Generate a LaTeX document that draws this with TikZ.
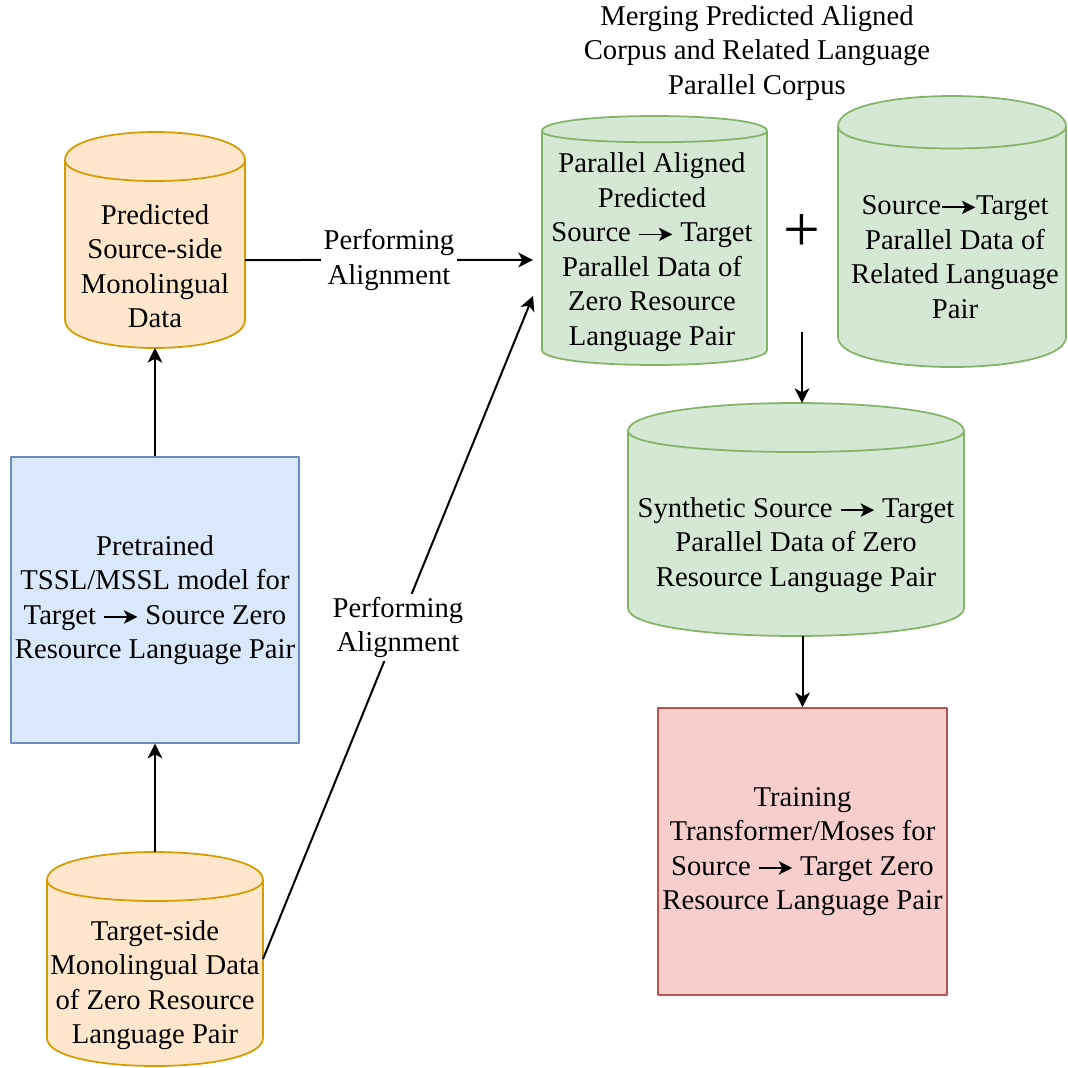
\documentclass[tikz,border=0pt]{standalone}
\usepackage{fontspec}
\setmainfont{Liberation Serif}
\usetikzlibrary{arrows.meta,calc}

\definecolor{orfill}{HTML}{FFE6CC}
\definecolor{ordraw}{HTML}{D79B00}
\definecolor{blfill}{HTML}{DAE8FC}
\definecolor{bldraw}{HTML}{6C8EBF}
\definecolor{grfill}{HTML}{D5E8D4}
\definecolor{grdraw}{HTML}{82B366}
\definecolor{rdfill}{HTML}{F8CECC}
\definecolor{rddraw}{HTML}{B85450}

% inline arrow used inside the labels
\newcommand\rarr{\begin{tikzpicture}[baseline=-5.4pt]
  \draw[black,line width=1.3pt,-{Stealth[length=10pt,width=10pt,inset=2.5pt]}] (0pt,0pt) -- (25pt,0pt);
\end{tikzpicture}}

% database cylinder: #1 style, #2 left, #3 top, #4 right, #5 bottom, #6 cap depth
\newcommand\dbcyl[6]{%
  \pgfmathsetmacro\cylTa{#3+#6}%
  \pgfmathsetmacro\cylTb{#3-#6/3}%
  \pgfmathsetmacro\cylBa{#5-#6}%
  \pgfmathsetmacro\cylBb{#5+#6/3}%
  \pgfmathsetmacro\cylTc{#3+2*#6}%
  \draw[#1] (#2,\cylTa) .. controls (#2,\cylTb) and (#4,\cylTb) .. (#4,\cylTa)
     -- (#4,\cylBa) .. controls (#4,\cylBb) and (#2,\cylBb) .. (#2,\cylBa) -- cycle;
  \draw[#1,fill=none] (#2,\cylTa) .. controls (#2,\cylTc) and (#4,\cylTc) .. (#4,\cylTa);
}

\begin{document}
\begin{tikzpicture}[x=0.75pt,y=-0.75pt,line join=round,
  txt/.style={align=center,font=\fontsize{21.5pt}{25.9pt}\selectfont,inner sep=0pt},
  conn/.style={line width=1.5pt,-{Stealth[length=11pt,width=11pt,inset=3pt]}},
  ghost/.style={draw=none,fill=none,inner sep=0pt,outer sep=0pt},
  orangecyl/.style={fill=orfill,draw=ordraw,line width=1.3pt},
  greencyl/.style={fill=grfill,draw=grdraw,line width=1.3pt},
  bluebox/.style={txt,rectangle,fill=blfill,draw=bldraw,line width=1pt},
  redbox/.style={txt,rectangle,fill=rdfill,draw=rddraw,line width=1.2pt},
  edgelabel/.style={txt,fill=white,inner sep=2pt}]

\useasboundingbox (0,0) rectangle (1068,1068);
\fill[white] (0,0) rectangle (1068,1068);

% ---- cylinders ----
\dbcyl{orangecyl}{65}{132}{245}{348}{28}
\node[ghost,minimum width=135pt,minimum height=162pt] (srcmono) at (155,240) {};
\node[txt] (srcmono-t) at (155,266) {Predicted\\Source-side\\Monolingual\\Data};

\dbcyl{orangecyl}{47}{852}{263}{1066}{28}
\node[ghost,minimum width=162pt,minimum height=160.5pt] (tgtmono) at (155,959) {};
\node[txt] (tgtmono-t) at (155,985) {Target-side\\Monolingual Data\\of Zero Resource\\Language Pair};

\dbcyl{greencyl}{542}{116}{767}{365}{15}
\node[ghost,minimum width=168.75pt,minimum height=186.75pt] (para) at (654.5,240.5) {};
\node[txt] (para-t) at (652,252) {Parallel Aligned\\Predicted\\Source \rarr\ Target\\Parallel Data of\\Zero Resource\\Language Pair};

\dbcyl{greencyl}{838}{96}{1066}{367}{30}
\node[ghost,minimum width=171pt,minimum height=203.25pt] (rel) at (952,231.5) {};
\node[txt] (rel-t) at (955,257) {Source\rarr Target\\Parallel Data of\\Related Language\\Pair};

\dbcyl{greencyl}{628}{403}{964}{636}{28}
\node[ghost,minimum width=252pt,minimum height=174.75pt] (synth) at (796,519.5) {};
\node[txt] (synth-t) at (796,545) {Synthetic Source \rarr\ Target\\Parallel Data of Zero\\Resource Language Pair};

% ---- boxes ----
\node[bluebox,minimum width=216pt,minimum height=214.5pt] (model) at (155,600)
  {Pretrained\\TSSL/MSSL model for\\Target \rarr\ Source Zero\\Resource Language Pair};
\node[redbox,minimum width=216.75pt,minimum height=215.25pt] (train) at (802.5,851.5)
  {Training\\Transformer/Moses for\\Source \rarr\ Target Zero\\Resource Language Pair};

% ---- heading and plus sign ----
\node[txt] (merge-t) at (757,53) {Merging Predicted Aligned\\Corpus and Related Language\\Parallel Corpus};
\node[font=\fontsize{49pt}{50pt}\selectfont,inner sep=0pt] (plus) at (802,233) {+};

% ---- connectors ----
\draw[conn] (model.north) -- (srcmono.south);
\draw[conn] (tgtmono.north) -- (model.south);
\draw[conn] ([yshift=-15pt]srcmono.east) -- ([xshift=-6.75pt,yshift=-14.6pt]para.west)
  node[edgelabel,midway] (align1) {Performing\\Alignment};
\draw[conn] (tgtmono.east) -- ([xshift=-6.75pt,yshift=-41.6pt]para.west)
  node[edgelabel,midway] (align2) {Performing\\Alignment};
\coordinate (mergept) at (802,332);
\draw[conn] (mergept) -- (mergept |- synth.north);
\draw[conn] (synth.south -| train.north) -- (train.north);

\end{tikzpicture}
\end{document}
